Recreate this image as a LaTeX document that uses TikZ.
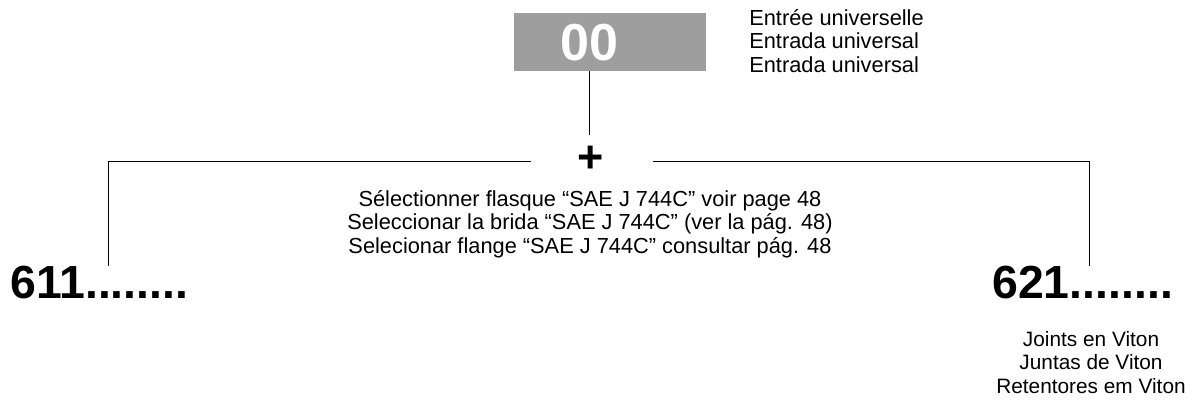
\documentclass[tikz,border=0pt]{standalone}
\usepackage{fontspec}
\setmainfont{Liberation Sans}
\begin{document}
\begin{tikzpicture}[x=0.025cm, y=-0.025cm,
		txt/.style = {font=\fontsize{15.5}{16.8}\selectfont, align=center, inner sep=0pt},
		code/.style = {font=\fontsize{33}{36}\selectfont\bfseries, inner sep=0pt}]
		\useasboundingbox (0,0) rectangle (1195,403);
		% input box
		\node[fill=black!38, minimum width=4.8cm, minimum height=1.45cm, inner sep=0pt] (input) at (610,42) {};
		\node[white, font=\fontsize{37}{40}\selectfont\bfseries, inner sep=0pt] (zero) at (589,43) {00};
		\node[txt, align=left, anchor=north west] (inputtxt) at (749,9) {Entrée universelle\\Entrada universal\\Entrada universal};
		% junction
		\node[font=\fontsize{32}{34}\selectfont\bfseries, inner sep=0pt] (plus) at (591,159) {+};
		\coordinate (stem) at (589,135);
		\coordinate (lend) at (531,161);
		\coordinate (rend) at (653,161);
		\draw (zero |- input.south) -- (stem);
		\node[txt, anchor=north] (flange) at (590,190) {Sélectionner flasque “SAE J 744C” voir page 48\\Seleccionar la brida “SAE J 744C” (ver la pág. 48)\\Selecionar flange “SAE J 744C” consultar pág. 48};
		% outputs
		\node[code, anchor=north west] (c611) at (10,266) {611........};
		\node[code, anchor=north west] (c621) at (992,266) {621........};
		\coordinate (lcorner) at (108,161);
		\coordinate (rcorner) at (1089,161);
		\draw (lend) -- (lcorner) -- (lcorner |- c611.north);
		\draw (rend) -- (rcorner) -- (rcorner |- c621.north);
		\node[txt, font=\fontsize{14.8}{16.8}\selectfont, anchor=north] (viton) at (1091,331) {Joints en Viton\\Juntas de Viton\\Retentores em Viton};
\end{tikzpicture}
\end{document}
